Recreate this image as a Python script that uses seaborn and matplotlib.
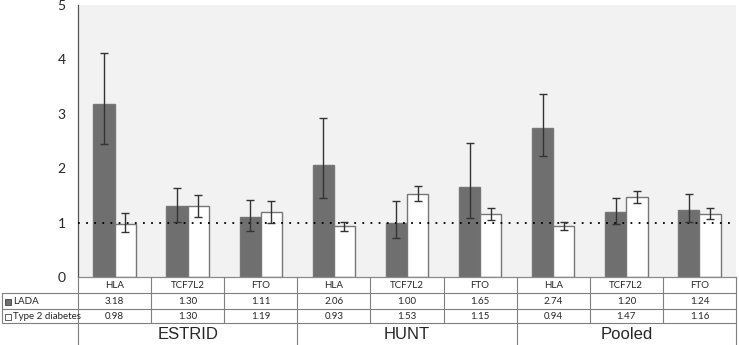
import numpy as np
import pandas as pd
import matplotlib.pyplot as plt
import seaborn as sns
from matplotlib.patches import Rectangle

# data
studies = ["ESTRID", "HUNT", "Pooled"]
genes = ["HLA", "TCF7L2", "FTO"]
lada = [3.18, 1.30, 1.11, 2.06, 1.00, 1.65, 2.74, 1.20, 1.24]
lada_lo = [2.45, 1.02, 0.85, 1.45, 0.71, 1.09, 2.23, 0.98, 1.01]
lada_hi = [4.11, 1.64, 1.42, 2.93, 1.40, 2.47, 3.36, 1.45, 1.53]
t2d = [0.98, 1.30, 1.19, 0.93, 1.53, 1.15, 0.94, 1.47, 1.16]
t2d_lo = [0.82, 1.10, 0.99, 0.85, 1.39, 1.04, 0.87, 1.36, 1.06]
t2d_hi = [1.17, 1.50, 1.39, 1.02, 1.67, 1.26, 1.02, 1.58, 1.26]
groups = ["LADA", "Type 2 diabetes"]

cols = [s + " " + g for s in studies for g in genes]
df = pd.DataFrame({
    "col": cols * 2,
    "value": lada + t2d,
    "group": [groups[0]] * 9 + [groups[1]] * 9,
})

sns.set_style("white")
plt.rcParams["font.family"] = ["Lato", "DejaVu Sans"]

W, H = 739, 345
fig = plt.figure(figsize=(W / 100, H / 100), dpi=100)
ax = fig.add_axes([78 / W, (H - 277) / H, (736 - 78) / W, (277 - 5) / H])
tab = fig.add_axes([78 / W, 0, (736 - 78) / W, (H - 277) / H], sharex=ax)

palette = {"LADA": "#6f6f6f", "Type 2 diabetes": "#ffffff"}
sns.barplot(data=df, x="col", y="value", hue="group", palette=palette,
            width=0.58, errorbar=None, edgecolor="#767676", linewidth=1.0,
            saturation=1, legend=False, ax=ax)

# error bars at the bar centres
for cont, vals, lo, hi in [(ax.containers[0], lada, lada_lo, lada_hi),
                           (ax.containers[1], t2d, t2d_lo, t2d_hi)]:
    xs = [p.get_x() + p.get_width() / 2 for p in cont]
    v = np.array(vals)
    err = [v - np.array(lo), np.array(hi) - v]
    ax.errorbar(xs, v, yerr=err, fmt="none", ecolor="#333333",
                elinewidth=1.0, capsize=3, capthick=1.0, zorder=5)

ax.axhline(1, color="black", linestyle=(0, (1, 3.5)), linewidth=1.3, zorder=4)

ax.set_facecolor("#f2f2f2")
ax.set_xlim(-0.5, 8.5)
ax.set_ylim(0, 5)
ax.set_yticks(range(6))
ax.tick_params(axis="y", direction="out", length=4, width=0.8, color="#555555",
               labelsize=10, pad=5)
ax.tick_params(axis="x", bottom=False, labelbottom=False)
ax.set_xlabel("")
ax.set_ylabel("")
for s in ["top", "right"]:
    ax.spines[s].set_visible(False)
ax.spines["left"].set_color("#555555")
ax.spines["left"].set_linewidth(0.9)
ax.spines["bottom"].set_color("#8a8a8a")
ax.spines["bottom"].set_linewidth(0.9)

# data table underneath
tab.set_ylim(H, 277)
tab.axis("off")
lc = "#7f7f7f"
left = -0.5 - 76 / 73.1
kw = dict(color=lc, linewidth=0.8, clip_on=False)
for x in np.arange(-0.5, 9.0, 1.0):
    tab.plot([x, x], [277, 323], **kw)
for y in [293, 309, 323]:
    tab.plot([left, 8.5], [y, y], **kw)
tab.plot([left, left], [293, 323], **kw)
for x in [-0.5, 2.5, 5.5, 8.5]:
    tab.plot([x, x], [323, 345], **kw)

for i, c in enumerate(cols):
    tab.text(i, 285.5, genes[i % 3], ha="center", va="center", fontsize=7)
    tab.text(i, 301.5, f"{lada[i]:.2f}", ha="center", va="center", fontsize=7)
    tab.text(i, 316.5, f"{t2d[i]:.2f}", ha="center", va="center", fontsize=7)
for j, s in enumerate(studies):
    tab.text(3 * j + 1, 334.5, s, ha="center", va="center", fontsize=12,
             family=["Liberation Sans", "DejaVu Sans"])

for y, g in [(301.5, groups[0]), (316.5, groups[1])]:
    tab.add_patch(Rectangle((left + 3 / 73.1, y - 3), 6.5 / 73.1, 6.5,
                            facecolor=palette[g], edgecolor="#444444",
                            linewidth=0.6, clip_on=False))
    tab.text(left + 11 / 73.1, y, g, ha="left", va="center", fontsize=7)

fig.savefig("out.png", dpi=100)
